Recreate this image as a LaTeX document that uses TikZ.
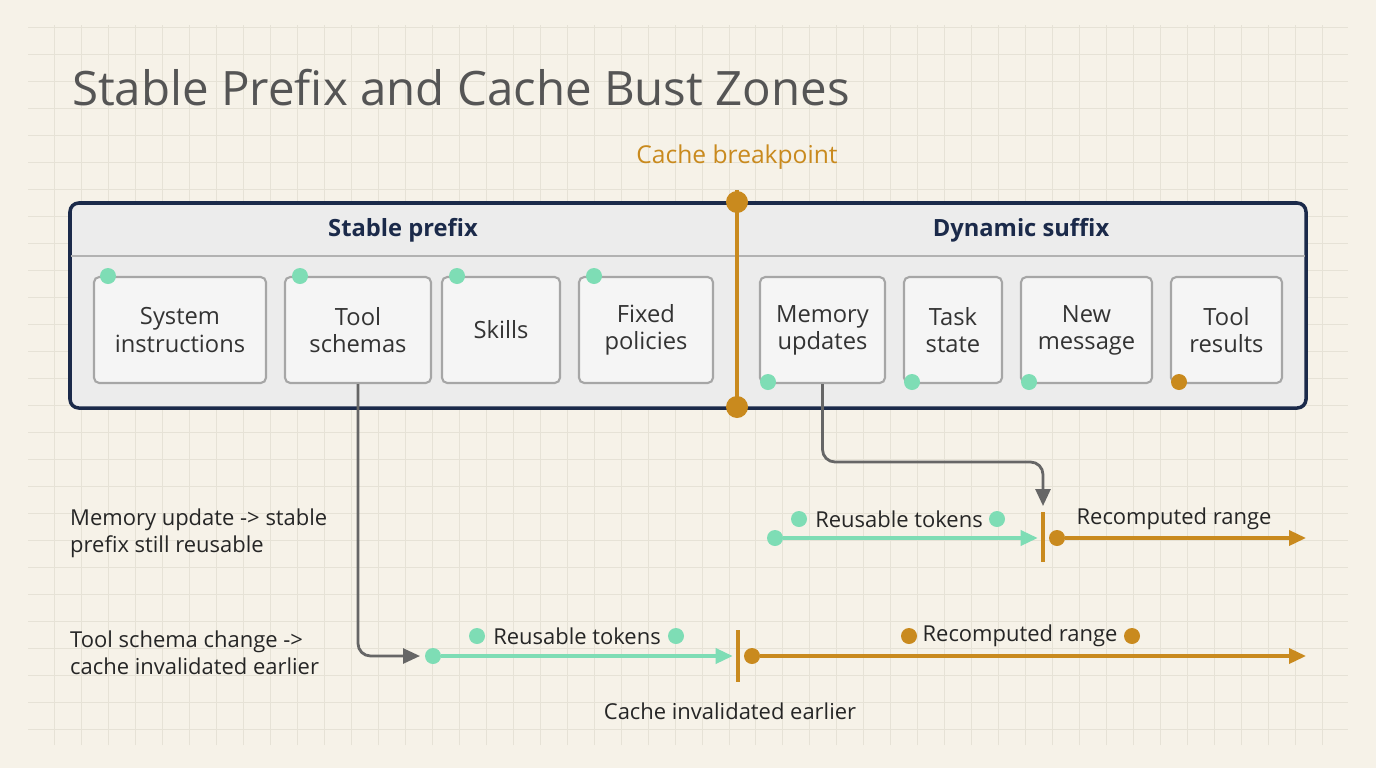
\documentclass[tikz,border=0pt]{standalone}
\usepackage{fontspec}
\setmainfont{Open Sans}
\usetikzlibrary{positioning,arrows.meta}
\definecolor{paper}{HTML}{F6F2E8}
\definecolor{gridc}{HTML}{E6E2D6}
\definecolor{navy}{HTML}{1B2A4A}
\definecolor{amber}{HTML}{C98A1E}
\definecolor{mint}{HTML}{7EDDB5}
\definecolor{slate}{HTML}{555555}
\begin{document}
\begin{tikzpicture}[x=0.02cm,y=-0.02cm,
 block/.style={draw=gray!70,line width=1.2pt,rounded corners=3pt,fill=white!92!gray,
   minimum height=2.12cm,align=center,font=\fontsize{13.5}{15.5}\selectfont,text=black!80},
 gdot/.style={circle,fill=mint,inner sep=0pt,minimum size=0.32cm},
 odot/.style={circle,fill=amber,inner sep=0pt,minimum size=0.32cm},
 lbl/.style={font=\fontsize{12.5}{15}\selectfont,text=black!85},
 note/.style={font=\fontsize{12.5}{15.5}\selectfont,align=left,anchor=west,text=black!85},
 gline/.style={mint,line width=2pt,-{Triangle[length=0.34cm,width=0.3cm]}},
 oline/.style={amber,line width=2pt,-{Triangle[length=0.34cm,width=0.3cm]}},
 link/.style={gray!80!black,line width=1.6pt,rounded corners=0.25cm,-{Triangle[length=0.34cm,width=0.3cm]}}]
\fill[paper] (0,0) rectangle (1376,768);
\draw[gridc,step=0.54cm] (28,25) grid (1348,745);
\useasboundingbox (0,0) rectangle (1376,768);

\node[anchor=west,font=\fontsize{27}{32}\selectfont,text=slate] (title) at (66,88) {Stable Prefix and Cache Bust Zones};

% outer frame
\draw[navy,line width=2pt,rounded corners=5pt,fill=gray!15] (70,203) rectangle (1306,408);
\draw[gray!60,line width=1pt] (71,256) -- (1305,256);
\node[font=\bfseries\fontsize{13.5}{16}\selectfont,text=navy] (stable) at (403,230) {Stable prefix};
\node[font=\bfseries\fontsize{13.5}{16}\selectfont,text=navy] (dyn) at (1021,230) {Dynamic suffix};

% blocks
\foreach \N/\A/\B/\T in {sys/94/266/{System\\instructions},tool/285/431/{Tool\\schemas},skill/442/560/Skills,pol/579/713/{Fixed\\policies},mem/760/885/{Memory\\updates},task/904/1002/{Task\\state},msg/1021/1152/{New\\message},res/1171/1282/{Tool\\results}}
  \node[block,minimum width={(\B-\A)*0.02cm}] (\N) at ({(\A+\B)/2},330) {\T};
\foreach \X in {108,300,457,594}
  \node[gdot] at (\X,276) {};
\foreach \X in {768,912,1029}
  \node[gdot] at (\X,382) {};
\node[odot] at (1179,382) {};

% breakpoint
\node[font=\fontsize{14}{16}\selectfont,text=amber] (bp) at (737,157) {Cache breakpoint};
\coordinate (bptop) at (737,190);
\coordinate (bpbot) at (737,408);
\draw[amber,line width=2.5pt] (bptop) -- (bpbot);
\node[odot,minimum size=0.44cm] at (737,202) {};
\node[odot,minimum size=0.44cm] at (737,407) {};

% row 1
\node[note] (n1) at (64,533) {Memory update -> stable\\prefix still reusable};
\node[gdot] (g1) at (775,538) {};
\coordinate (t1) at (1043,538);
\draw[gline] (g1) -- ([xshift=-3pt]t1);
\draw[amber,line width=2.5pt] (1043,512) -- (1043,562);
\node[odot] (o1) at (1057,538) {};
\coordinate (e1) at (1306,538);
\draw[oline] (o1) -- (e1);
\node[lbl] (r1) at (899,519) {Reusable tokens};
\node[gdot] at (799,519) {}; \node[gdot] at (997,519) {};
\node[lbl] (c1) at (1174,519) {Recomputed range};

% row 2
\node[note] (n2) at (64,653) {Tool schema change ->\\cache invalidated earlier};
\node[gdot] (g2) at (433,656) {};
\coordinate (t2) at (738,656);
\draw[gline] (g2) -- ([xshift=-3pt]t2);
\draw[amber,line width=2.5pt] (738,630) -- (738,682);
\node[odot] (o2) at (752,656) {};
\coordinate (e2) at (1306,656);
\draw[oline] (o2) -- (e2);
\node[lbl] (r2) at (577,636) {Reusable tokens};
\node[gdot] at (477,636) {}; \node[gdot] at (676,636) {};
\node[lbl] (c2) at (1020,636) {Recomputed range};
\node[odot] at (909,636) {}; \node[odot] at (1132,636) {};
\node[lbl] (inv) at (730,711) {Cache invalidated earlier};

% links
\draw[link] (tool.south) |- (420,656);
\draw[link] (mem.south) |- (1043,462) -- (1043,506);
\end{tikzpicture}
\end{document}
